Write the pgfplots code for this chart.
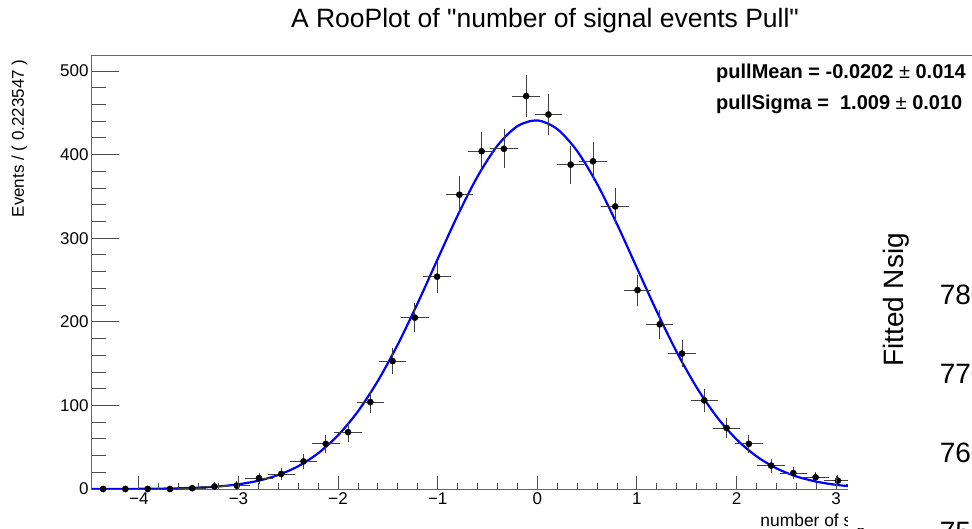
\documentclass[border=0pt]{standalone}
\usepackage{pgfplots}
\pgfplotsset{compat=1.18}
\usepackage{pgfplotstable}
\usepackage{fontspec}
\setmainfont{Liberation Sans}[Ligatures=TeXOff]

\pgfplotstableread{
x y ey
-4.3592 0 0
-4.1356 0 0
-3.9121 0 0
-3.6885 0 0
-3.4650 1 1.0
-3.2414 3 1.7
-3.0179 4 2.0
-2.7943 13 3.6
-2.5708 18 4.2
-2.3472 33 5.7
-2.1237 54 7.3
-1.9001 68 8.2
-1.6766 104 10.2
-1.4530 153 12.4
-1.2295 205 14.3
-1.0059 254 15.9
-0.7824 352 18.8
-0.5589 404 20.1
-0.3353 407 20.2
-0.1118 470 21.7
0.1118 448 21.2
0.3353 388 19.7
0.5589 392 19.8
0.7824 338 18.4
1.0059 238 15.4
1.2295 197 14.0
1.4530 162 12.7
1.6766 106 10.3
1.9001 73 8.5
2.1237 54 7.3
2.3472 28 5.3
2.5708 19 4.4
2.7943 14 3.7
3.0179 10 3.2
3.2414 6 2.4
3.4650 3 1.7
3.6885 1 1.0
3.9121 1 1.0
4.1356 0 0
4.3592 0 0
}\datatable

\pgfplotstableread{
x y
-4.47 0.03
-4.2 0.08
-4.0 0.18
-3.8 0.40
-3.6 0.82
-3.4 1.62
-3.2 3.07
-3.0 5.63
-2.8 9.91
-2.6 16.8
-2.4 27.3
-2.2 42.8
-2.0 64.3
-1.8 93.0
-1.6 129.5
-1.4 173.1
-1.2 222.6
-1.0 275.2
-0.8 327.2
-0.6 373.9
-0.4 410.8
-0.2 434.0
0.0 440.9
0.2 430.6
0.4 404.3
0.6 365.1
0.8 316.9
1.0 264.5
1.2 212.3
1.4 163.8
1.6 121.5
1.8 86.6
2.0 59.4
2.2 39.2
2.4 24.8
2.6 15.1
2.8 8.87
3.0 5.00
3.2 2.71
3.4 1.41
3.6 0.71
3.8 0.33
4.0 0.15
4.2 0.065
4.47 0.02
}\fittable

\begin{document}
\begin{tikzpicture}[x=1pt,y=1pt]
\useasboundingbox (0,0) rectangle (972,528);
\clip (0,0) rectangle (972,528);
% main axis: frame, y ticks, data
\begin{axis}[
  at={(92pt,39pt)}, anchor=south west,
  scale only axis, width=890.6pt, height=433pt,
  xmin=-4.47094, xmax=4.47094, ymin=0, ymax=518,
  axis line style={black!60, line width=1pt},
  xtick=\empty,
  ytick={0,100,200,300,400,500},
  minor y tick num=4,
  ytick pos=left, tick align=inside,
  major tick length=27pt, minor tick length=13.7pt,
  tick style={black!70, line width=0.9pt},
  yticklabel style={font=\fontsize{17}{20}\selectfont, black},
  /pgf/number format/assume math mode=true,
  ylabel={Events / ( 0.223547 )},
  ylabel style={at={(axis description cs:-0.0685,1)}, anchor=south east,
    font=\fontsize{17}{20}\selectfont},
  clip=true,
]
\addplot[blue, line width=2.2pt, smooth] table[x=x,y=y] {\fittable};
\addplot[only marks, mark=*, mark size=3.1pt, black,
  error bars/.cd, x dir=both, x fixed=0.1118, y dir=both, y explicit,
  error bar style={black!75, line width=0.8pt},
  error mark options={black!75, mark size=2.6pt, line width=0.8pt}]
  table[x=x,y=y,y error=ey] {\datatable};
\end{axis}
% overlay axis for x ticks
\begin{axis}[
  at={(92pt,39pt)}, anchor=south west,
  scale only axis, width=890.6pt, height=433pt,
  xmin=-4.47094, xmax=4.47094, ymin=0, ymax=518,
  axis line style={draw=none},
  ytick=\empty,
  xtick={-4,-3,-2,-1,0,1,2,3,4},
  xticklabels={−4,−3,−2,−1,0,1,2,3,4},
  minor x tick num=4,
  xtick pos=bottom, tick align=inside,
  major tick length=13pt, minor tick length=6.5pt,
  tick style={black!70, line width=0.9pt},
  xticklabel style={font=\fontsize{17}{20}\selectfont, black},
  xlabel={number of signal events Pull},
  xlabel style={at={(axis description cs:1,-0.049)}, anchor=north east,
    font=\fontsize{17.4}{20}\selectfont},
]
\end{axis}
\node[anchor=base, font=\fontsize{26.5}{30}\selectfont] at (545,500)
  {A RooPlot of "number of signal events Pull"};
\node[anchor=base west, inner sep=0pt, font=\fontsize{20}{24}\selectfont\bfseries] at (716,449)
  {pullMean = -0.0202 {\mdseries ±} 0.014};
\node[anchor=base west, inner sep=0pt, font=\fontsize{20}{24}\selectfont\bfseries] at (716,418)
  {pullSigma = \ 1.009 {\mdseries ±} 0.010};
% overlapping second canvas
\fill[white] (848,0) rectangle (972,410);
\begin{axis}[
  at={(990pt,-19.8pt)}, anchor=south west,
  scale only axis, width=100pt, height=292.3pt,
  xmin=0, xmax=1, ymin=748, ymax=785,
  axis x line=none, axis y line=left,
  axis line style={draw=none},
  ytick={750,760,770,780},
  major tick length=0pt,
  tick style={draw=none},
  yticklabel style={font=\fontsize{28}{32}\selectfont, black},
  /pgf/number format/assume math mode=true,
  ylabel={Fitted Nsig},
  ylabel style={at={(axis description cs:-0.94,0.848)}, anchor=center,
    font=\fontsize{28}{32}\selectfont},
]
\end{axis}
\end{tikzpicture}
\end{document}
